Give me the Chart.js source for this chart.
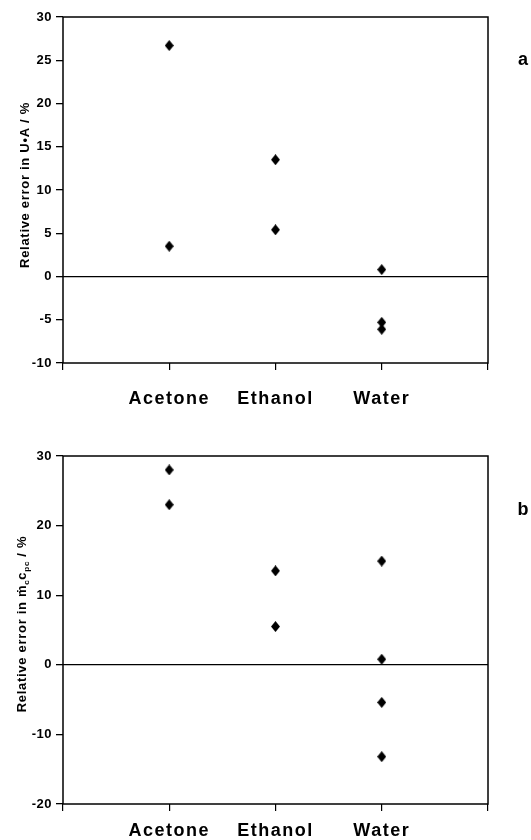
<!DOCTYPE html>
<html>
<head>
<meta charset="utf-8">
<script src="https://cdn.jsdelivr.net/npm/chart.js@4.4.1/dist/chart.umd.min.js"></script>
<style>
  body { margin: 0; background: #fff; }
  .panel { position: absolute; left: 0; width: 531px; height: 420px; }
</style>
</head>
<body>
<div class="panel" style="top:0"><canvas id="chart-a" width="531" height="420"></canvas></div>
<div class="panel" style="top:420px"><canvas id="chart-b" width="531" height="420"></canvas></div>
<script>
// categorias del eje x (posiciones 1, 2, 3)
const categories = ['Acetone', 'Ethanol', 'Water'];

// panel a: error relativo en U·A (%)
const uaAcetone = [26.7, 3.5];
const uaEthanol = [13.5, 5.4];
const uaWater = [0.8, -5.3, -6.1];

// panel b: error relativo en m_c c_pc (%)
const mcAcetone = [28.0, 23.0];
const mcEthanol = [13.5, 5.5];
const mcWater = [14.9, 0.8, -5.4, -13.2];

const FONT = "'Liberation Sans', Arial, sans-serif";

function toPoints(groups) {
    const pts = [];
    groups.forEach((vals, i) => vals.forEach(v => pts.push({ x: i + 1, y: v })));
    return pts;
}

// rombo algo mas alto que ancho, como en el original
const diamond = document.createElement('canvas');
diamond.width = 9;
diamond.height = 11;
(function () {
    const c = diamond.getContext('2d');
    c.fillStyle = '#000';
    c.beginPath();
    c.moveTo(4.5, 0);
    c.lineTo(9, 5.5);
    c.lineTo(4.5, 11);
    c.lineTo(0, 5.5);
    c.closePath();
    c.fill();
})();

// marco, titulo del eje y y letra del panel
const framePlugin = {
    id: 'frame',
    beforeDraw(chart) {
        chart.ctx.letterSpacing = '0.5px';
    },
    afterDatasetsDraw(chart) {
        // las etiquetas del eje x se dibujan despues (z = 1) con espaciado
        chart.ctx.letterSpacing = '1.5px';
    },
    afterDraw(chart, args, opts) {
        const ctx = chart.ctx;
        const a = chart.chartArea;
        ctx.save();
        ctx.letterSpacing = '0.7px';
        ctx.strokeStyle = '#000';
        ctx.lineWidth = 1.5;
        ctx.strokeRect(a.left, a.top, a.right - a.left, a.bottom - a.top);

        // titulo rotado con subindices
        ctx.fillStyle = '#000';
        ctx.translate(opts.titleX, (a.top + a.bottom) / 2 + opts.titleShift);
        ctx.rotate(-Math.PI / 2);
        ctx.textBaseline = 'alphabetic';
        let total = 0;
        opts.title.forEach(p => {
            ctx.font = `bold ${p.sub ? 8 : 13}px ${FONT}`;
            p.w = ctx.measureText(p.t).width;
            total += p.w;
        });
        let x = -total / 2;
        opts.title.forEach(p => {
            ctx.font = `bold ${p.sub ? 8 : 13}px ${FONT}`;
            ctx.fillText(p.t, x, p.sub ? 3 : 0);
            x += p.w;
        });
        ctx.restore();

        ctx.save();
        ctx.letterSpacing = '0px';
        ctx.fillStyle = '#000';
        ctx.font = `bold 18px ${FONT}`;
        ctx.textAlign = 'center';
        ctx.textBaseline = 'middle';
        ctx.fillText(opts.letter, 523, opts.letterY);
        ctx.restore();
    }
};

function buildChart(id, data, yMin, yMax, yStep, xHeight, xPad, top, title, titleX, titleShift, letter, letterY) {
    const ctx = document.getElementById(id).getContext('2d');
    return new Chart(ctx, {
        type: 'scatter',
        data: {
            datasets: [{
                data: data,
                backgroundColor: '#000',
                borderColor: '#000',
                pointStyle: diamond,
                pointRadius: 5,
                pointHoverRadius: 5
            }]
        },
        options: {
            responsive: false,
            animation: false,
            layout: { padding: { left: 0, right: 43, top: top, bottom: 0 } },
            plugins: {
                legend: { display: false },
                tooltip: { enabled: false },
                frame: { title: title, titleX: titleX, titleShift: titleShift, letter: letter, letterY: letterY }
            },
            scales: {
                x: {
                    type: 'linear',
                    min: 0,
                    max: 4,
                    afterFit: s => { s.height = xHeight; },
                    border: { display: false },
                    grid: { drawOnChartArea: false, tickColor: '#000', tickLength: 7, lineWidth: 1.2 },
                    ticks: {
                        stepSize: 1,
                        z: 1,
                        padding: xPad,
                        color: '#000',
                        font: { family: FONT, size: 18, weight: 'bold' },
                        callback: v => categories[v - 1] || ''
                    }
                },
                y: {
                    min: yMin,
                    max: yMax,
                    afterFit: s => { s.width = 63; },
                    border: { display: false },
                    grid: {
                        color: c => c.tick.value === 0 ? '#000' : 'rgba(0,0,0,0)',
                        lineWidth: 1.3,
                        tickColor: '#000',
                        tickLength: 7
                    },
                    ticks: {
                        stepSize: yStep,
                        padding: 4,
                        color: '#000',
                        font: { family: FONT, size: 13, weight: 'bold' }
                    }
                }
            }
        },
        plugins: [framePlugin]
    });
}

buildChart('chart-a', toPoints([uaAcetone, uaEthanol, uaWater]), -10, 30, 5, 57, 18, 17,
    [{ t: 'Relative error in U\u2022A / %' }], 29, -5, 'a', 60);

buildChart('chart-b', toPoints([mcAcetone, mcEthanol, mcWater]), -20, 30, 10, 36, 9, 36,
    [{ t: 'Relative error in \u1E41' }, { t: 'c', sub: true }, { t: 'c' }, { t: 'pc', sub: true }, { t: ' / %' }],
    26, -6, 'b', 90);
</script>
</body>
</html>
